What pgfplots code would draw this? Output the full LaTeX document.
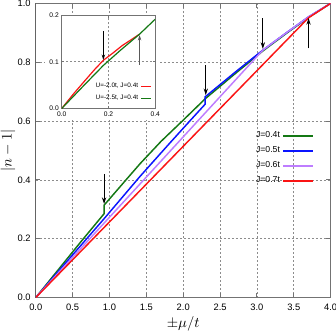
\documentclass[border=0pt]{standalone}
\usepackage{fontspec}
\setmainfont{Liberation Sans}
\usepackage{pgfplots}
\pgfplotsset{compat=1.18}
\usetikzlibrary{arrows.meta}

\definecolor{cgreen}{RGB}{20,120,20}
\definecolor{cblue}{RGB}{10,20,255}
\definecolor{cviolet}{RGB}{190,125,255}
\definecolor{cred}{RGB}{250,20,20}

\pgfplotsset{
  gp/.style={
    scale only axis,
    axis line style={black!55, line width=0.9pt},
    tick align=inside,
    tick style={black!55, line width=0.7pt},
    grid=major,
    grid style={black!45, line width=0.5pt, dash pattern=on 1.5pt off 1.5pt},
    /pgf/number format/assume math mode=true,
    /pgf/number format/fixed,
    /pgf/number format/fixed zerofill,
    /pgf/number format/precision=1,
    legend plot pos=right,
    legend cell align=right,
  },
}

\begin{document}
\begin{tikzpicture}
\begin{axis}[gp, name=main,
  at={(0pt,0pt)}, anchor=south west,
  width=221pt, height=220.5pt,
  xmin=0, xmax=4, ymin=0, ymax=1,
  xtick={0,0.5,1,1.5,2,2.5,3,3.5,4},
  ytick={0,0.2,0.4,0.6,0.8,1},
  major tick length=3.5pt,
  tick label style={font=\fontsize{7}{8}\selectfont},
  xticklabel style={yshift=-1pt},
  xlabel={$\pm\mu/t$},
  ylabel={$|n-1|$},
  label style={font=\fontsize{11}{12}\selectfont},
  xlabel style={yshift=3pt},
  ylabel style={yshift=-5.5pt},
  line width=1.1pt,
  legend style={draw=none, fill=none, at={(0.945,0.575)}, anchor=north east,
    font=\fontsize{6.5}{7}\selectfont, row sep=1.2pt, inner sep=0pt},
  legend image code/.code={\draw[#1, line width=1.3pt] (0pt,0pt) -- (22pt,0pt);},
]
\addplot[cgreen] coordinates {
  (0,0) (0.3,0.093) (0.6,0.186) (0.927,0.285) (0.927,0.314) (1.2,0.393)
  (1.415,0.455) (1.7,0.531) (2.0,0.603) (2.3,0.676) (2.7,0.760)
  (3.08,0.838) (3.4,0.898) (3.7,0.952) (4.0,1.0)
};
\addlegendentry{J=0.4t}
\addplot[cblue] coordinates {
  (0,0) (0.5,0.145) (0.927,0.268) (1.415,0.412) (1.8,0.52) (2.1,0.603)
  (2.297,0.657) (2.297,0.682) (2.7,0.765) (3.08,0.841) (3.4,0.900)
  (3.7,0.954) (4.0,1.0)
};
\addlegendentry{J=0.5t}
\addplot[cviolet] coordinates {
  (0,0) (3.08,0.841) (3.4,0.900) (3.7,0.954) (4.0,1.0)
};
\addlegendentry{J=0.6t}
\addplot[cred] coordinates {
  (0,0) (3.70,0.951) (4.0,1.0)
};
\addlegendentry{J=0.7t}
\draw[black, line width=0.9pt] (axis cs:0,0) -- (axis cs:0,1);
\draw[black, line width=0.8pt, -{Stealth[length=5pt,width=3.2pt]}] (axis cs:0.927,0.42) -- (axis cs:0.927,0.318);
\draw[black, line width=0.8pt, -{Stealth[length=5pt,width=3.2pt]}] (axis cs:2.306,0.79) -- (axis cs:2.306,0.688);
\draw[black, line width=0.8pt, -{Stealth[length=5pt,width=3.2pt]}] (axis cs:3.08,0.949) -- (axis cs:3.08,0.845);
\draw[black, line width=0.8pt, -{Stealth[length=5pt,width=3.2pt]}] (axis cs:3.70,0.847) -- (axis cs:3.70,0.950);
\end{axis}

\fill[white] ([shift={(7pt,133pt)}]main.south west) rectangle ([shift={(93pt,213pt)}]main.south west);

\begin{axis}[gp,
  at={(main.south west)}, anchor=south west, xshift=19.5pt, yshift=141.75pt,
  width=70pt, height=70pt,
  xmin=0, xmax=0.4, ymin=0, ymax=0.2,
  xtick={0,0.2,0.4}, ytick={0,0.1,0.2},
  major tick length=2pt,
  axis line style={black!55, line width=0.7pt},
  tick label style={font=\fontsize{5}{5.5}\selectfont},
  xticklabel style={yshift=1.5pt},
  yticklabel style={xshift=1.5pt},
  line width=0.9pt,
  legend style={draw=none, fill=none, at={(0.965,0.04)}, anchor=south east,
    font=\fontsize{4.8}{5}\selectfont, row sep=-0.3pt, inner sep=0pt},
  legend image code/.code={\draw[#1] (0pt,0pt) -- (7pt,0pt);},
]
\addplot[cred] coordinates {
  (0,0) (0.05,0.031) (0.1,0.060) (0.14,0.083) (0.178,0.103)
  (0.22,0.119) (0.26,0.135) (0.3,0.148) (0.333,0.159)
};
\addlegendentry{U=-2.0t, J=0.4t}
\addplot[cgreen] coordinates {
  (0,0) (0.1,0.052) (0.178,0.092) (0.25,0.124) (0.333,0.159) (0.4,0.191)
};
\addlegendentry{U=-2.5t, J=0.4t}
\draw[black, line width=0.7pt, -{Stealth[length=4pt,width=2.6pt]}] (axis cs:0.178,0.165) -- (axis cs:0.178,0.104);
\draw[black!65, line width=0.7pt, -{Stealth[length=4pt,width=2.6pt]}] (axis cs:0.333,0.093) -- (axis cs:0.333,0.157);
\end{axis}

\pgfresetboundingbox
\useasboundingbox ([shift={(-26.8pt,-25.3pt)}]main.south west) rectangle ([shift={(225pt,223pt)}]main.south west);
\end{tikzpicture}
\end{document}
